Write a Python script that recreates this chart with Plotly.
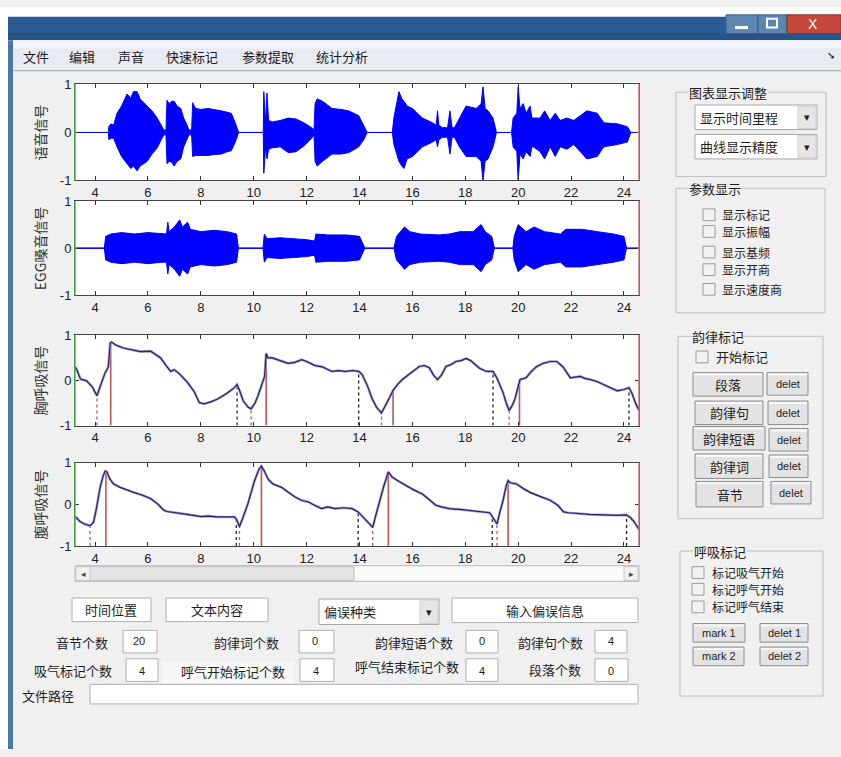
import plotly.graph_objects as go

W, H = 841, 757
FONT = "Liberation Sans, Arial, sans-serif"
CJK = "Noto Sans CJK SC, sans-serif"

# ---------------- data ----------------
x_range = [3.24, 24.57]
x_ticks = [4, 6, 8, 10, 12, 14, 16, 18, 20, 22, 24]
y_ticks = [-1, 0, 1]
y_titles = ["语音信号", "EGG嗓音信号", "胸呼吸信号", "腹呼吸信号"]

# speech signal envelope (time, upper, lower)
speech_t = [3.24, 4.50, 4.52, 4.60, 4.70, 4.83, 5.00, 5.21, 5.35, 5.45, 5.59, 5.70, 5.97, 6.15, 6.35, 6.50,
            6.60, 6.68, 6.72, 6.80, 6.90, 6.99, 7.10, 7.24, 7.35, 7.48, 7.55, 7.65, 7.69, 7.80, 8.00, 8.26,
            8.50, 8.77, 9.00, 9.15, 9.30, 9.43, 10.36, 10.38, 10.45, 10.50, 10.56, 10.70, 11.00, 11.31,
            11.60, 11.90, 12.19, 12.28, 12.32, 12.40, 12.60, 12.96, 13.30, 13.59, 13.97, 14.16, 14.29,
            15.24, 15.30, 15.49, 15.60, 15.68, 15.80, 16.00, 16.38, 16.76, 16.90, 16.95, 17.00, 17.14,
            17.33, 17.42, 17.50, 17.59, 17.78, 18.03, 18.41, 18.60, 18.67, 18.75, 18.86, 19.05, 19.18,
            19.75, 19.81, 19.95, 20.00, 20.07, 20.19, 20.30, 20.45, 20.52, 20.57, 20.83, 21.00, 21.21,
            21.40, 21.59, 21.84, 22.10, 22.35, 22.60, 22.99, 23.24, 23.75, 24.13, 24.26, 24.57]
speech_up = [0, 0, 0.12, 0.18, 0.15, 0.40, 0.55, 0.80, 0.72, 0.85, 0.85, 0.70, 0.55, 0.45, 0.30, 0.15,
             0.05, 0.05, 0.67, 0.60, 0.65, 0.65, 0.55, 0.50, 0.30, 0.15, 0.05, 0.05, 0.62, 0.50, 0.48, 0.50,
             0.48, 0.45, 0.42, 0.40, 0.20, 0, 0, 0.85, 0.20, 0.82, 0.25, 0.22, 0.25, 0.30,
             0.28, 0.20, 0.10, 0.05, 0.60, 0.70, 0.65, 0.50, 0.48, 0.45, 0.35, 0.15, 0,
             0, 0.30, 0.85, 0.70, 0.65, 0.55, 0.50, 0.30, 0.20, 0.15, 0.45, 0.15, 0.10,
             0.10, 0.45, 0.10, 0.10, 0.30, 0.55, 0.50, 0.60, 0.95, 0.50, 0.45, 0.30, 0,
             0, 0.30, 0.40, 0.95, 0.50, 0.60, 0.40, 0.55, 0.30, 0.30, 0.30, 0.45, 0.25,
             0.40, 0.25, 0.30, 0.25, 0.35, 0.45, 0.40, 0.20, 0.18, 0.12, 0, 0]
speech_lo = [0, 0, -0.15, -0.12, -0.12, -0.30, -0.50, -0.65, -0.75, -0.70, -0.80, -0.70, -0.60, -0.45, -0.32, -0.15,
             -0.05, -0.05, -0.65, -0.60, -0.62, -0.70, -0.60, -0.55, -0.30, -0.15, -0.05, -0.05, -0.50, -0.48, -0.48, -0.48,
             -0.46, -0.45, -0.40, -0.38, -0.20, 0, 0, -0.85, -0.30, -0.55, -0.35, -0.32, -0.30, -0.42,
             -0.40, -0.28, -0.12, -0.05, -0.60, -0.70, -0.60, -0.45, -0.45, -0.42, -0.30, -0.15, 0,
             0, -0.25, -0.60, -0.70, -0.75, -0.55, -0.50, -0.30, -0.20, -0.15, -0.30, -0.15, -0.10,
             -0.10, -0.45, -0.10, -0.10, -0.30, -0.50, -0.50, -0.60, -1.00, -0.60, -0.55, -0.30, 0,
             0, -0.30, -0.40, -1.00, -0.45, -0.55, -0.40, -0.50, -0.30, -0.30, -0.40, -0.55, -0.30,
             -0.50, -0.30, -0.35, -0.25, -0.40, -0.55, -0.50, -0.30, -0.25, -0.20, 0, 0]

# EGG signal envelope (time, upper, lower)
egg_t = [3.24, 4.35, 4.40, 4.60, 5.00, 5.50, 6.00, 6.50, 6.70, 6.75, 6.80, 7.00, 7.20, 7.30, 7.50, 7.60,
         8.00, 8.50, 9.00, 9.35, 9.42, 10.35, 10.40, 10.50, 11.00, 11.50, 12.00, 12.30, 12.35, 12.80,
         13.50, 14.00, 14.20, 15.30, 15.40, 15.70, 15.90, 16.30, 17.00, 17.40, 17.80, 18.30, 18.60,
         18.75, 19.00, 19.10, 19.80, 19.85, 20.00, 20.30, 20.60, 21.00, 21.60, 21.80, 22.40, 23.00,
         23.60, 24.00, 24.10, 24.57]
egg_up = [0, 0, 0.25, 0.30, 0.33, 0.30, 0.33, 0.30, 0.30, 0.55, 0.35, 0.45, 0.60, 0.45, 0.55, 0.40,
          0.35, 0.38, 0.35, 0.30, 0, 0, 0.30, 0.20, 0.22, 0.20, 0.18, 0.15, 0.30, 0.28,
          0.28, 0.25, 0, 0, 0.25, 0.45, 0.35, 0.30, 0.28, 0.30, 0.35, 0.35, 0.50,
          0.35, 0.25, 0, 0, 0.25, 0.50, 0.35, 0.45, 0.35, 0.30, 0.40, 0.40, 0.35,
          0.30, 0.25, 0, 0]
egg_lo = [0, 0, -0.25, -0.30, -0.33, -0.30, -0.33, -0.30, -0.30, -0.55, -0.35, -0.45, -0.60, -0.45, -0.55, -0.40,
          -0.35, -0.38, -0.35, -0.30, 0, 0, -0.30, -0.20, -0.22, -0.20, -0.18, -0.15, -0.30, -0.28,
          -0.28, -0.25, 0, 0, -0.25, -0.45, -0.35, -0.30, -0.28, -0.30, -0.35, -0.35, -0.50,
          -0.35, -0.25, 0, 0, -0.25, -0.50, -0.35, -0.45, -0.35, -0.30, -0.40, -0.40, -0.35,
          -0.30, -0.25, 0, 0]

# chest respiration
chest_t = [3.24, 3.30, 3.45, 3.68, 3.90, 4.07, 4.20, 4.38, 4.50, 4.57, 4.62, 4.80, 5.07, 5.40, 5.72, 6.10,
           6.30, 6.48, 6.70, 6.86, 6.99, 7.20, 7.50, 7.75, 7.94, 8.13, 8.40, 8.64, 9.00, 9.27, 9.37, 9.45,
           9.60, 9.78, 9.90, 10.05, 10.16, 10.30, 10.41, 10.47, 10.54, 10.70, 10.92, 11.30, 11.55, 11.81,
           12.00, 12.32, 12.60, 12.95, 13.20, 13.46, 13.75, 13.97, 14.10, 14.30, 14.48, 14.65, 14.83,
           14.95, 15.11, 15.27, 15.45, 15.62, 15.90, 16.26, 16.45, 16.64, 16.80, 16.95, 17.10, 17.27,
           17.45, 17.65, 17.85, 18.03, 18.20, 18.54, 18.80, 19.05, 19.20, 19.43, 19.55, 19.66, 19.78,
           19.88, 20.07, 20.30, 20.50, 20.70, 20.95, 21.21, 21.46, 21.70, 21.97, 22.15, 22.35, 22.55,
           22.73, 23.00, 23.24, 23.50, 23.75, 24.00, 24.19, 24.30, 24.45, 24.57]
chest_v = [0.31, 0.25, 0.03, -0.01, -0.15, -0.34, -0.12, 0.17, 0.30, 0.83, 0.85, 0.78, 0.72, 0.68, 0.64, 0.65,
           0.58, 0.50, 0.32, 0.20, 0.24, 0.14, -0.05, -0.25, -0.49, -0.52, -0.47, -0.41, -0.28, -0.16, -0.09, -0.20,
           -0.45, -0.59, -0.63, -0.50, -0.34, -0.10, 0.09, 0.60, 0.50, 0.50, 0.46, 0.38, 0.40, 0.46,
           0.42, 0.33, 0.30, 0.20, 0.22, 0.20, 0.22, 0.20, 0.13, -0.12, -0.41, -0.60, -0.72,
           -0.60, -0.41, -0.22, -0.08, 0.02, 0.15, 0.31, 0.33, 0.28, 0.12, 0.02, 0.12, 0.31,
           0.35, 0.42, 0.44, 0.49, 0.44, 0.27, 0.20, 0.20, 0.05, -0.27, -0.50, -0.67, -0.55,
           -0.41, 0.02, 0.06, 0.20, 0.31, 0.38, 0.42, 0.42, 0.30, 0.06, 0.08, 0.09, 0.04,
           0.02, -0.03, -0.09, -0.15, -0.23, -0.20, -0.16, -0.28, -0.52, -0.66]

# abdominal respiration
abd_t = [3.24, 3.43, 3.60, 3.81, 3.94, 4.05, 4.19, 4.30, 4.38, 4.45, 4.55, 4.70, 4.95, 5.20, 5.46, 5.80,
         6.10, 6.35, 6.60, 6.73, 7.00, 7.24, 7.60, 8.00, 8.30, 8.64, 9.00, 9.27, 9.34, 9.46, 9.60, 9.78,
         10.03, 10.20, 10.29, 10.40, 10.55, 10.73, 11.05, 11.30, 11.56, 11.80, 12.07, 12.30, 12.57, 12.80,
         13.08, 13.40, 13.72, 13.95, 14.22, 14.50, 14.60, 14.73, 14.90, 15.09, 15.24, 15.50, 15.75, 16.05,
         16.38, 16.65, 16.89, 17.10, 17.40, 17.80, 18.16, 18.50, 18.92, 19.02, 19.20, 19.30, 19.43, 19.55,
         19.62, 19.70, 19.94, 20.20, 20.45, 20.80, 21.21, 21.50, 21.72, 21.90, 22.22, 22.70, 23.24, 23.70,
         24.10, 24.25, 24.38, 24.57]
abd_v = [-0.29, -0.41, -0.47, -0.51, -0.43, -0.10, 0.41, 0.68, 0.80, 0.78, 0.62, 0.49, 0.41, 0.36, 0.29, 0.22,
         0.14, 0.02, -0.14, -0.17, -0.20, -0.22, -0.25, -0.29, -0.28, -0.30, -0.29, -0.30, -0.35, -0.53, -0.30, 0.02,
         0.57, 0.85, 0.92, 0.80, 0.60, 0.49, 0.41, 0.30, 0.18, 0.10, 0.06, -0.02, -0.10, -0.06,
         -0.10, -0.08, -0.10, -0.18, -0.37, -0.55, -0.30, 0.02, 0.40, 0.78, 0.65, 0.55, 0.45, 0.35,
         0.25, 0.10, -0.02, -0.06, -0.10, -0.12, -0.14, -0.16, -0.20, -0.29, -0.47, -0.20, 0.10, 0.45,
         0.57, 0.52, 0.49, 0.38, 0.29, 0.20, 0.10, -0.02, -0.18, -0.20, -0.22, -0.24, -0.25, -0.26,
         -0.25, -0.32, -0.41, -0.60]

# breath marks: (time, top value)
chest_mark_red_dash = [(4.07, -0.34), (9.90, -0.63), (14.83, -0.72), (19.66, -0.67)]
chest_mark_blk_dash = [(9.37, -0.09), (13.97, 0.20), (19.05, 0.20), (24.19, -0.16)]
chest_mark_red_solid = [(4.59, 0.84), (10.47, 0.60), (15.27, -0.22), (20.05, 0.00)]
abd_mark_red_dash = [(3.81, -0.51), (9.46, -0.53), (14.50, -0.55), (19.20, -0.47)]
abd_mark_blk_dash = [(9.34, -0.35), (13.95, -0.18), (19.02, -0.29), (24.10, -0.25)]
abd_mark_red_solid = [(4.41, 0.79), (10.29, 0.92), (15.09, 0.78), (19.62, 0.57)]

menu_items = ["文件", "编辑", "声音", "快速标记", "参数提取", "统计分析"]
param_items = ["显示标记", "显示振幅", "显示基频", "显示开商", "显示速度商"]
rhythm_buttons = ["段落", "韵律句", "韵律短语", "韵律词", "音节"]
breath_checks = ["标记吸气开始", "标记呼气开始", "标记呼气结束"]
count_row1 = [("音节个数", "20"), ("韵律词个数", "0"), ("韵律短语个数", "0"), ("韵律句个数", "4")]
count_row2 = [("吸气标记个数", "4"), ("呼气开始标记个数", "4"), ("呼气结束标记个数", "4"), ("段落个数", "0")]

# ---------------- helpers ----------------
def fx(x):
    return x / W


def fy(y):
    return 1 - y / H


shapes = []
annotations = []


def rect(x0, y0, x1, y1, fill=None, line="#a0a0a0", width=1):
    shapes.append(dict(type="rect", xref="paper", yref="paper",
                       x0=fx(x0), x1=fx(x1), y0=fy(y1), y1=fy(y0),
                       fillcolor=fill if fill else "rgba(0,0,0,0)",
                       line=dict(color=line, width=width), layer="above"))


def hline(x0, x1, y, color, width=1):
    shapes.append(dict(type="line", xref="paper", yref="paper",
                       x0=fx(x0), x1=fx(x1), y0=fy(y), y1=fy(y),
                       line=dict(color=color, width=width), layer="above"))


def text(x, y, s, size=13, color="#1e1e1e", anchor="center", bg=None, family=CJK, angle=0):
    a = dict(xref="paper", yref="paper", x=fx(x), y=fy(y), text=s, showarrow=False,
             xanchor=anchor, yanchor="middle", textangle=angle, borderpad=0,
             font=dict(family=family, size=size, color=color))
    if bg:
        a["bgcolor"] = bg
    annotations.append(a)


# ---------------- figure ----------------
fig = go.Figure()

plot_x = (75, 639)
plot_y = [(79, 177), (198, 294), (335, 427), (465, 550)]

layout_axes = {}
for i, (t0, b0) in enumerate(plot_y, start=1):
    xa = "xaxis" if i == 1 else f"xaxis{i}"
    ya = "yaxis" if i == 1 else f"yaxis{i}"
    layout_axes[xa] = dict(domain=[fx(plot_x[0]), fx(plot_x[1])], anchor=f"y{i}" if i > 1 else "y",
                           range=x_range, tickvals=x_ticks, ticks="inside", ticklen=4, tickcolor="#333",
                           showline=True, linecolor="#444", linewidth=1, mirror="ticks",
                           showgrid=False, zeroline=False, fixedrange=True,
                           tickfont=dict(family=FONT, size=13, color="#222"))
    layout_axes[ya] = dict(domain=[fy(b0), fy(t0)], anchor=f"x{i}" if i > 1 else "x",
                           range=[-1, 1], tickvals=y_ticks, ticktext=["-1", "0", "1"],
                           ticks="inside", ticklen=4, tickcolor="#333",
                           showline=True, linecolor="#444", linewidth=1, mirror="ticks",
                           showgrid=False, zeroline=(i <= 2), zerolinecolor="#5a5f90",
                           zerolinewidth=1, fixedrange=True,
                           tickfont=dict(family=FONT, size=13, color="#222"))
    xd = f"x{i} domain" if i > 1 else "x domain"
    yd = f"y{i} domain" if i > 1 else "y domain"
    shapes.append(dict(type="rect", xref=xd, yref=yd, x0=0, x1=1, y0=0, y1=1,
                       fillcolor="white", line=dict(width=0), layer="below"))
    shapes.append(dict(type="line", xref=xd, yref=yd, x0=0, x1=0, y0=0, y1=1,
                       line=dict(color="#3cc43c", width=1.5), layer="above"))
    shapes.append(dict(type="line", xref=xd, yref=yd, x0=1, x1=1, y0=0, y1=1,
                       line=dict(color="#c97070", width=1.5), layer="above"))
    text(40, (t0 + b0) / 2, y_titles[i - 1], size=14, color="#333", angle=-90)


def envelope(t, up, lo, ax):
    fig.add_trace(go.Scatter(x=t + t[::-1], y=up + lo[::-1], mode="lines", fill="toself",
                             fillcolor="#0000ff", line=dict(color="#0000ff", width=1),
                             xaxis=ax[0], yaxis=ax[1], hoverinfo="skip", showlegend=False))


envelope(speech_t, speech_up, speech_lo, ("x", "y"))
envelope(egg_t, egg_up, egg_lo, ("x2", "y2"))


def marks(lst, ax, color, dash, width):
    xs, ys = [], []
    for t, v in lst:
        xs += [t, t, None]
        ys += [-1, v, None]
    fig.add_trace(go.Scatter(x=xs, y=ys, mode="lines", line=dict(color=color, dash=dash, width=width),
                             xaxis=ax[0], yaxis=ax[1], hoverinfo="skip", showlegend=False))


for (tt, vv, ax, rd, bd, rs) in [
    (chest_t, chest_v, ("x3", "y3"), chest_mark_red_dash, chest_mark_blk_dash, chest_mark_red_solid),
    (abd_t, abd_v, ("x4", "y4"), abd_mark_red_dash, abd_mark_blk_dash, abd_mark_red_solid),
]:
    marks(bd, ax, "#222222", "dot", 1.3)
    marks(rd, ax, "#b85a5a", "dot", 1.3)
    marks(rs, ax, "#c05555", "solid", 1.6)
    fig.add_trace(go.Scatter(x=tt, y=vv, mode="lines", line=dict(color="#a4a4cc", width=2.6),
                             xaxis=ax[0], yaxis=ax[1], hoverinfo="skip", showlegend=False))
    fig.add_trace(go.Scatter(x=tt, y=vv, mode="lines", line=dict(color="#23236e", width=1.2),
                             xaxis=ax[0], yaxis=ax[1], hoverinfo="skip", showlegend=False))

# ---------------- window chrome ----------------
rect(0, 0, W, 10, fill="white", line="white", width=0)
rect(0, 0, 8, H, fill="white", line="white", width=0)
rect(8, 10, W, 34, fill="#2b5c92", line="#2b5c92", width=0)
rect(8, 26, W, 34, fill="#275488", line="#275488", width=0)
rect(726, 8, 758, 27, fill="#5f86b1", line="#3c5f86")
rect(758, 8, 787, 27, fill="#5f86b1", line="#3c5f86")
rect(787, 8, W, 27, fill="#c6483a", line="#8e3228")
hline(735, 748, 21, "white", 3)
rect(767, 12, 777, 21, fill=None, line="white", width=2)
text(813, 17, "X", size=14, color="white", family=FONT)
rect(8, 34, W, 65, fill="#e9ebf4", line="#e9ebf4", width=0)
rect(8, 34, W, 42, fill="#f4f5fa", line="#f4f5fa", width=0)
hline(8, W, 65, "#a8a8a8", 1)
menu_x = [36, 82, 131, 192, 268, 342]
for mx, m in zip(menu_x, menu_items):
    text(mx, 50, m, size=13, color="#1a1a1a")
text(831, 49, "➘", size=10, color="#111", family=FONT)
rect(8, 34, 13, H, fill="#4878a8", line="#4878a8", width=0)

# ---------------- scrollbar ----------------
rect(75, 570, 639, 586, fill="#fafafa", line="#b8b8b8")
rect(76, 571, 354, 585, fill="#e4e4e4", line="#c0c0c0")
rect(76, 571, 90, 585, fill="#f0f0f0", line="#c8c8c8")
rect(624, 571, 638, 585, fill="#f0f0f0", line="#c8c8c8")
text(83, 578, "◂", size=9, color="#444", family=FONT)
text(631, 578, "▸", size=9, color="#444", family=FONT)

# ---------------- right panel ----------------
def group(x0, y0, x1, y1, title, tx):
    rect(x0, y0, x1, y1, fill=None, line="#bfbfbf")
    text(tx, y0, title, size=13, color="#1e1e1e", anchor="left", bg="#f0f0f0")


def dropdown(x0, y0, x1, y1, label, lx=None):
    rect(x0, y0, x1, y1, fill="white", line="#a8a8a8")
    rect(x1 - 19, y0 + 1, x1 - 1, y1 - 1, fill="#e6e6e6", line="#d0d0d0")
    text(x1 - 10, (y0 + y1) / 2, "▾", size=11, color="#222", family=FONT)
    text(lx if lx else x0 + 4, (y0 + y1) / 2, label, size=13, anchor="left")


def checkbox(x, y):
    rect(x - 6, y - 6, x + 6, y + 6, fill="#f2f2f2", line="#9a9a9a")


def button(x0, y0, x1, y1, label, size=13, family=CJK):
    rect(x0, y0, x1, y1, fill="#e3e3e3", line="#8e8e8e")
    hline(x0 + 1, x1 - 1, y0 + 2, "#f7f7f7", 2)
    text((x0 + x1) / 2, (y0 + y1) / 2, label, size=size, family=family)


group(676, 87, 826, 173, "图表显示调整", 688)
dropdown(695, 100, 817, 125, "显示时间里程", 699)
dropdown(695, 130, 817, 155, "曲线显示精度", 699)

group(676, 185, 825, 312, "参数显示", 688)
for yy, lab in zip([212, 229, 250, 268, 288], param_items):
    checkbox(709, yy)
    text(721, yy, lab, size=12, anchor="left")

group(678, 336, 823, 522, "韵律标记", 691)
checkbox(702, 357)
text(715, 357, "开始标记", size=13, anchor="left")
btn_boxes = [(693, 373, 763, 397), (695, 402, 763, 426), (693, 428, 765, 452), (695, 456, 763, 481), (696, 484, 763, 510)]
del_boxes = [(767, 373, 808, 396), (768, 402, 808, 426), (769, 430, 808, 453), (769, 457, 808, 480), (771, 484, 811, 507)]
for b, d, lab in zip(btn_boxes, del_boxes, rhythm_buttons):
    button(*b, lab)
    button(*d, "delet", size=11, family=FONT)

group(680, 555, 823, 703, "呼吸标记", 693)
for yy, lab in zip([577, 594, 612], breath_checks):
    checkbox(698, yy)
    text(711, yy, lab, size=12, anchor="left")
button(693, 629, 745, 648, "mark 1", size=11, family=FONT)
button(760, 629, 808, 648, "delet 1", size=11, family=FONT)
button(693, 653, 744, 672, "mark 2", size=11, family=FONT)
button(760, 653, 808, 672, "delet 2", size=11, family=FONT)

# ---------------- bottom controls ----------------
rect(72, 603, 151, 627, fill="white", line="#b0b0b0")
text(111, 615, "时间位置", size=13)
rect(166, 603, 268, 627, fill="white", line="#b0b0b0")
text(217, 615, "文本内容", size=13)
dropdown(319, 604, 439, 630, "偏误种类", 323)
rect(452, 603, 638, 628, fill="white", line="#b0b0b0")
text(545, 616, "输入偏误信息", size=13)

row1_text_x = [109, 280, 454, 584]
row1_box_x = [(123, 157), (299, 334), (466, 498), (595, 627)]
for (lab, val), tx, (b0, b1) in zip(count_row1, row1_text_x, row1_box_x):
    text(tx, 648, lab, size=13, anchor="right")
    rect(b0, 636, b1, 659, fill="white", line="#b0b0b0")
    text(b0 + 16, 647, val, size=11, family=FONT)

rect(162, 668, 294, 690, fill="#f7f7f7", line="#f7f7f7", width=0)
row2_text_x = [113, 286, 460, 582]
row2_y = [677, 678, 673, 676]
row2_box_x = [(126, 158), (300, 334), (466, 498), (595, 628)]
for (lab, val), tx, ty, (b0, b1) in zip(count_row2, row2_text_x, row2_y, row2_box_x):
    text(tx, ty, lab, size=13, anchor="right")
    rect(b0, 665, b1, 688, fill="white", line="#b0b0b0")
    text(b0 + 16, 677, val, size=11, family=FONT)

text(21, 702, "文件路径", size=13, anchor="left")
rect(90, 691, 638, 711, fill="white", line="#b0b0b0")

fig.update_layout(
    width=W, height=H, autosize=False,
    margin=dict(l=0, r=0, t=0, b=0),
    paper_bgcolor="#f0f0f0", plot_bgcolor="white",
    showlegend=False, shapes=shapes, annotations=annotations,
    **layout_axes,
)

fig.write_html("out.html", config={"displayModeBar": False, "staticPlot": True},
               post_script="document.body.style.margin='0';")
